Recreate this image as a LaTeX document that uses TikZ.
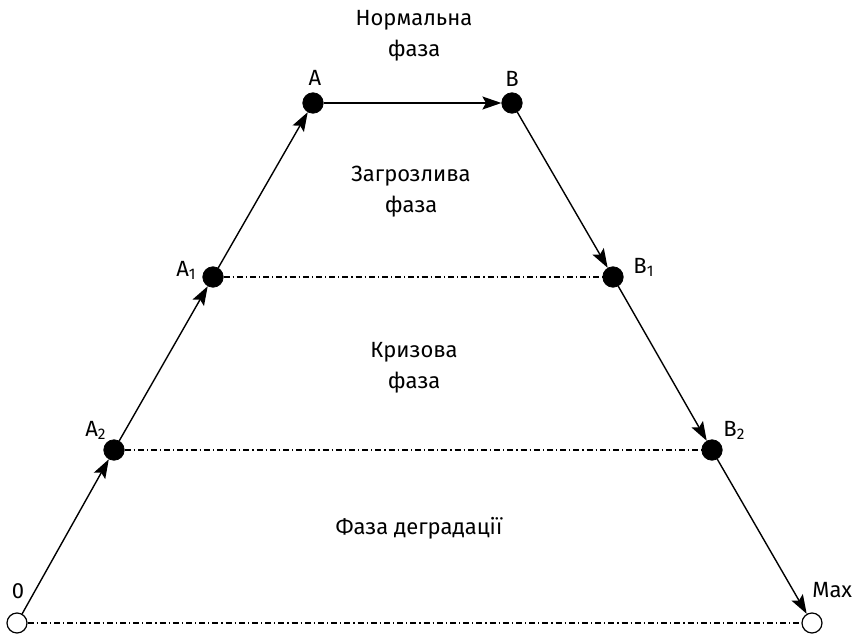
\documentclass[tikz,border=0pt]{standalone}
\usepackage{fontspec}
\setmainfont{Fira Sans}
\usetikzlibrary{arrows.meta}

\tikzset{
  state/.style={circle,fill=black,draw=black,inner sep=0pt,minimum size=10.2pt},
  bound/.style={circle,fill=white,draw=black,line width=0.6pt,inner sep=0pt,minimum size=10pt},
  move/.style={line width=0.7pt,-{Stealth[length=9.5pt,width=6.5pt,inset=1.8pt]}},
  level/.style={line width=0.6pt,dash pattern=on 3pt off 1.5pt on 0.6pt off 1.5pt},
  phase/.style={align=center,font=\fontsize{11}{15.5}\selectfont,inner sep=0pt},
  tag/.style={font=\fontsize{11}{12}\selectfont,inner sep=0pt}
}
\newcommand{\lowidx}[1]{\textsubscript{#1}}

\begin{document}
\begin{tikzpicture}[x=0.5pt,y=-0.5pt]
  \useasboundingbox (0,0) rectangle (857,637);

  % States on both slopes
  \node[bound] (O)   at (17,623) {};
  \node[state] (A2)  at (114,450) {};
  \node[state] (A1)  at (213,277) {};
  \node[state] (A)   at (313,103) {};
  \node[state] (B)   at (512,103) {};
  \node[state] (B1)  at (613,277) {};
  \node[state] (B2)  at (712,450) {};
  \node[bound] (Max) at (812,623) {};

  % Phase boundaries
  \draw[level] (A1) -- (B1);
  \draw[level] (A2) -- (B2);
  \draw[level] (O) -- (Max);

  % Way up and way down
  \draw[move] (O) -- (A2);
  \draw[move] (A2) -- (A1);
  \draw[move] (A1) -- (A);
  \draw[move] (A) -- (B);
  \draw[move] (B) -- (B1);
  \draw[move] (B1) -- (B2);
  \draw[move] (B2) -- (Max);

  % Point labels
  \node[tag,anchor=base] (lA) at (315,85) {A};
  \node[tag,anchor=base] (lB) at (512,86) {B};
  \node[tag,anchor=base east] (lA1) at (197,276) {A\lowidx{1}};
  \node[tag,anchor=base west] (lB1) at (633,273) {B\lowidx{1}};
  \node[tag,anchor=base east] (lA2) at (107,436) {A\lowidx{2}};
  \node[tag,anchor=base west] (lB2) at (723,436) {B\lowidx{2}};
  \node[tag,anchor=base] (lO) at (18,598) {0};
  \node[tag,anchor=base west] (lMax) at (812,597) {Max};

  % Phase names (base = last line)
  \node[phase,anchor=base] (normal) at (414,56) {Нормальна\\фаза};
  \node[phase,anchor=base] (threat) at (411,212) {Загрозлива\\фаза};
  \node[phase,anchor=base] (crisis) at (414,388) {Кризова\\фаза};
  \node[phase,anchor=base] (decay) at (419,534) {Фаза деградації};
\end{tikzpicture}
\end{document}
